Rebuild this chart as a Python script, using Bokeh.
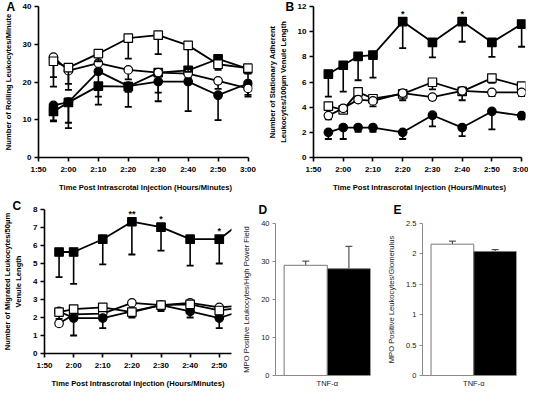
from bokeh.plotting import figure
from bokeh.models import FixedTicker, ColumnDataSource, Range1d, Title
from bokeh.layouts import row, column
from bokeh.embed import file_html
from bokeh.resources import INLINE

FONT = "Liberation Sans"

# ---------------- data ----------------
tick_minutes = [110, 120, 130, 140, 150, 160, 170, 180]
tick_labels = ["1:50", "2:00", "2:10", "2:20", "2:30", "2:40", "2:50", "3:00"]

# Panel A: rolling leukocytes / minute
a_times = [115, 120, 130, 140, 150, 160, 170, 180]
a_fill_sq = [12.2, 14.6, 18.9, 18.8, 22.5, 23.1, 26.1, 23.5]
a_fill_sq_err = [2.6, 6.8, 4.9, 5.4, 5.3, 2.0, 1.5, 3.5]
a_open_sq = [25.5, 23.8, 27.5, 31.6, 32.4, 29.7, 24.7, 23.7]
a_open_sq_err = [4.2, 4.3, 2.0, 5.4, 5.0, 7.0, 1.5, 1.5]
a_fill_ci = [13.8, 14.7, 22.8, 18.9, 20.1, 20.1, 16.5, 19.6]
a_fill_ci_err = [4.0, 5.5, 6.7, 1.5, 5.2, 7.8, 6.6, 3.0]
a_open_ci = [26.6, 23.0, 25.0, 23.2, 22.5, 22.2, 20.3, 18.3]
a_open_ci_err = [7.8, 5.1, 2.0, 2.5, 1.0, 1.5, 2.1, 2.2]

# Panel B: stationary adherent leukocytes / 100 um
b_times = [115, 120, 125, 130, 140, 150, 160, 170, 180]
b_fill_sq = [6.63, 7.33, 8.04, 8.14, 10.8, 9.15, 10.8, 9.15, 10.6]
b_fill_sq_err = [1.8, 2.1, 1.9, 1.8, 2.1, 1.2, 1.6, 1.15, 1.8]
b_open_sq = [4.09, 3.79, 5.22, 4.67, 5.05, 5.98, 5.25, 6.31, 5.68]
b_open_sq_err = [0.2, 0.2, 0.75, 0.6, 0.5, 0.56, 0.7, 0.38, 0.3]
b_fill_ci = [2.0, 2.38, 2.38, 2.38, 2.0, 3.36, 2.38, 3.66, 3.33]
b_fill_ci_err = [0.53, 0.91, 0.35, 0.35, 0.53, 0.88, 0.68, 1.43, 0.3]
b_open_ci = [3.33, 3.91, 4.6, 4.5, 5.12, 4.8, 5.3, 5.17, 5.17]
b_open_ci_err = [0.3, 0.2, 0.2, 0.2, 0.2, 0.2, 0.3, 0.3, 0.3]
b_sig_times = [140, 160]
b_sig_marks = ["*", "*"]

# Panel C: migrated leukocytes / 50 um
c_times = [115, 120, 130, 140, 150, 160, 170, 180]
c_fill_sq = [5.64, 5.64, 6.35, 7.32, 7.02, 6.35, 6.35, 7.6]
c_fill_sq_err = [1.4, 1.77, 1.4, 1.82, 1.3, 1.47, 1.35, 1.0]
c_open_sq = [2.3, 2.47, 2.56, 2.3, 2.69, 2.73, 2.39, 2.6]
c_open_sq_err = [0.1, 0.1, 0.1, 0.1, 0.33, 0.1, 0.1, 0.1]
c_fill_ci = [2.34, 1.97, 1.97, 2.34, 2.69, 2.34, 1.97, 2.5]
c_fill_ci_err = [0.42, 0.97, 0.56, 0.35, 0.2, 0.34, 0.56, 0.3]
c_open_ci = [1.67, 2.17, 2.22, 2.81, 2.69, 2.81, 2.56, 2.7]
c_open_ci_err = [0.12, 0.1, 0.1, 0.1, 0.1, 0.1, 0.1, 0.1]
c_sig_times = [140, 150, 170]
c_sig_marks = ["**", "*", "*"]

# Panels D / E: MPO positive leukocytes
bar_group = "TNF-\u03b1"
bar_colors = ["white", "black"]
d_values = [29.0, 28.1]
d_err = [1.1, 5.9]
d_ticks = [0, 10, 20, 30, 40]
e_values = [2.16, 2.04]
e_err = [0.05, 0.03]
e_ticks = [0, 0.5, 1, 1.5, 2, 2.5]
e_tick_labels = ["0", "0.5", "1", "1.5", "2", "2.5"]


# ---------------- helpers ----------------
def letter_title(letter, offset, standoff):
    return Title(text=letter, align="left", offset=offset, standoff=standoff,
                 text_font=FONT, text_font_style="bold",
                 text_font_size="12px", text_color="black")


def style_line_axes(p, y_ticks):
    p.outline_line_color = None
    p.grid.visible = False
    for ax in (p.xaxis[0], p.yaxis[0]):
        ax.axis_line_color = "black"
        ax.axis_line_width = 1.6
        ax.major_tick_line_color = "black"
        ax.major_tick_line_width = 1.6
        ax.major_tick_in = 0
        ax.major_tick_out = 4
        ax.minor_tick_line_color = None
        ax.major_label_text_font = FONT
        ax.major_label_text_font_style = "bold"
        ax.major_label_text_font_size = "8px"
        ax.major_label_text_color = "black"
        ax.axis_label_text_font = FONT
        ax.axis_label_text_font_style = "bold"
        ax.axis_label_text_font_size = "7.6px"
        ax.axis_label_text_color = "black"
    p.xaxis.ticker = FixedTicker(ticks=tick_minutes)
    p.xaxis.major_label_overrides = dict(zip(tick_minutes, tick_labels))
    p.xaxis.bounds = (tick_minutes[0], tick_minutes[-1])
    p.xaxis.major_label_standoff = 3
    p.xaxis.axis_label_standoff = 6
    p.yaxis.ticker = FixedTicker(ticks=y_ticks)
    p.yaxis.major_label_standoff = 3
    p.yaxis.axis_label_standoff = 7


def add_series(p, x, y, err, marker, fill):
    lower = [m - e for m, e in zip(y, err)]
    src = ColumnDataSource(dict(x=x, y=y, lower=lower))
    p.segment(x0="x", y0="y", x1="x", y1="lower", source=src,
              line_color="black", line_width=1.6)
    p.scatter(x="x", y="lower", source=src, marker="dash", size=7,
              line_color="black", line_width=1.8)
    p.line(x="x", y="y", source=src, line_color="black", line_width=1.8)
    p.scatter(x="x", y="y", source=src, marker=marker, size=8.5,
              fill_color=fill, line_color="black", line_width=1.2)


def add_sig(p, times, all_times, values, marks, size):
    ys = [values[all_times.index(t)] for t in times]
    src = ColumnDataSource(dict(x=times, y=ys, t=marks))
    p.text(x="x", y="y", text="t", source=src, text_align="center",
           text_baseline="bottom", y_offset=-3, text_font_size=size,
           text_color="black", text_font_style="bold")


def line_fig(w, h, bl, br, bt, bb, x_end, y_end, title):
    p = figure(width=w, height=h, x_range=Range1d(110, x_end),
               y_range=Range1d(0, y_end), output_backend="svg",
               toolbar_location=None, min_border_left=bl,
               min_border_right=br, min_border_top=bt,
               min_border_bottom=bb, background_fill_color="white",
               border_fill_color="white", title=title)
    p.frame_align = False
    return p


XLAB = "Time Post Intrascrotal Injection (Hours/Minutes)"

# ---------------- panel A ----------------
pa = line_fig(264, 194, 32, 12, 6, 36, 181.5, 40, letter_title("A", -32, -15))
style_line_axes(pa, [0, 10, 20, 30, 40])
pa.xaxis.axis_label = XLAB
pa.yaxis.axis_label = "Number of Rolling Leukocytes/Minute"
add_series(pa, a_times, a_fill_ci, a_fill_ci_err, "circle", "black")
add_series(pa, a_times, a_fill_sq, a_fill_sq_err, "square", "black")
add_series(pa, a_times, a_open_ci, a_open_ci_err, "circle", "white")
add_series(pa, a_times, a_open_sq, a_open_sq_err, "square", "white")

# ---------------- panel B ----------------
pb = line_fig(264, 194, 41, 3, 6, 36, 181.3, 12, letter_title("B", -28, -15))
style_line_axes(pb, [0, 2, 4, 6, 8, 10, 12])
pb.xaxis.axis_label = XLAB
pb.yaxis.axis_label = "Number of Stationary Adherent\nLeukocytes/100\u00b5m Venule Length"
add_series(pb, b_times, b_fill_ci, b_fill_ci_err, "circle", "black")
add_series(pb, b_times, b_open_sq, b_open_sq_err, "square", "white")
add_series(pb, b_times, b_open_ci, b_open_ci_err, "circle", "white")
add_series(pb, b_times, b_fill_sq, b_fill_sq_err, "square", "black")
add_sig(pb, b_sig_times, b_times, b_fill_sq, b_sig_marks, "9px")

# ---------------- panel C ----------------
pc = line_fig(233, 196, 34, 2, 15, 30, 174.2, 8, letter_title("C", -32, -7.6))
style_line_axes(pc, [0, 1, 2, 3, 4, 5, 6, 7, 8])
pc.xaxis.axis_label = XLAB
pc.yaxis.axis_label = "Number of Migrated Leukocytes/50\u00b5m\nVenule Length"
add_series(pc, c_times, c_open_ci, c_open_ci_err, "circle", "white")
add_series(pc, c_times, c_fill_ci, c_fill_ci_err, "circle", "black")
add_series(pc, c_times, c_open_sq, c_open_sq_err, "square", "white")
add_series(pc, c_times, c_fill_sq, c_fill_sq_err, "square", "black")
add_sig(pc, c_sig_times, c_times, c_fill_sq, c_sig_marks, "9px")


# ---------------- panels D / E ----------------
def bar_fig(w, bl, br, values, errs, y_end, ticks, ylabel, letter, lx, tick_over=None):
    p = figure(width=w, height=196, x_range=Range1d(-0.7, 1.5),
               y_range=Range1d(0, y_end), output_backend="svg",
               toolbar_location=None, min_border_left=bl,
               min_border_right=br, min_border_top=28, min_border_bottom=13,
               title=letter_title(letter, lx, 12.6))
    p.frame_align = False
    p.outline_line_color = None
    p.grid.visible = False
    xs = list(range(len(values)))
    src = ColumnDataSource(dict(x=xs, top=values, color=bar_colors,
                                hi=[v + e for v, e in zip(values, errs)]))
    p.segment(x0="x", y0="top", x1="x", y1="hi", source=src,
              line_color="#333333", line_width=1)
    p.scatter(x="x", y="hi", source=src, marker="dash", size=7,
              line_color="#333333", line_width=1)
    p.vbar(x="x", top="top", width=1, source=src, fill_color="color",
           line_color="#777777", line_width=1)
    for ax in (p.xaxis[0], p.yaxis[0]):
        ax.axis_line_color = "#8a8a8a"
        ax.axis_line_width = 1
        ax.major_tick_line_color = "#8a8a8a"
        ax.major_tick_in = 0
        ax.major_tick_out = 3
        ax.minor_tick_line_color = None
        ax.major_label_text_font = FONT
        ax.major_label_text_font_size = "7.5px"
        ax.major_label_text_color = "#222222"
        ax.axis_label_text_font = FONT
        ax.axis_label_text_font_style = "normal"
        ax.axis_label_text_font_size = "7.6px"
        ax.axis_label_text_color = "#222222"
    centre = (xs[0] + xs[-1]) / 2
    p.xaxis.ticker = FixedTicker(ticks=[centre])
    p.xaxis.major_label_overrides = {centre: bar_group}
    p.xaxis.major_tick_line_color = None
    p.xaxis.major_tick_out = 0
    p.xaxis.major_label_standoff = 3
    p.yaxis.ticker = FixedTicker(ticks=ticks)
    if tick_over:
        p.yaxis.major_label_overrides = tick_over
    p.yaxis.major_label_standoff = 3
    p.yaxis.axis_label = ylabel
    p.yaxis.axis_label_standoff = 7
    return p


pd_ = bar_fig(146, 42, 9, d_values, d_err, 40, d_ticks,
              "MPO Positive Leukocytes/High Power Field", "D", -17)
pe = bar_fig(149, 43, 12, e_values, e_err, 2.5, e_ticks,
             "MPO Positive Leukocytes/Glomerulus", "E", -29,
             dict(zip(e_ticks, e_tick_labels)))

layout = column(row(pa, pb), row(pc, pd_, pe))
open("out.html", "w").write(file_html(layout, INLINE))
